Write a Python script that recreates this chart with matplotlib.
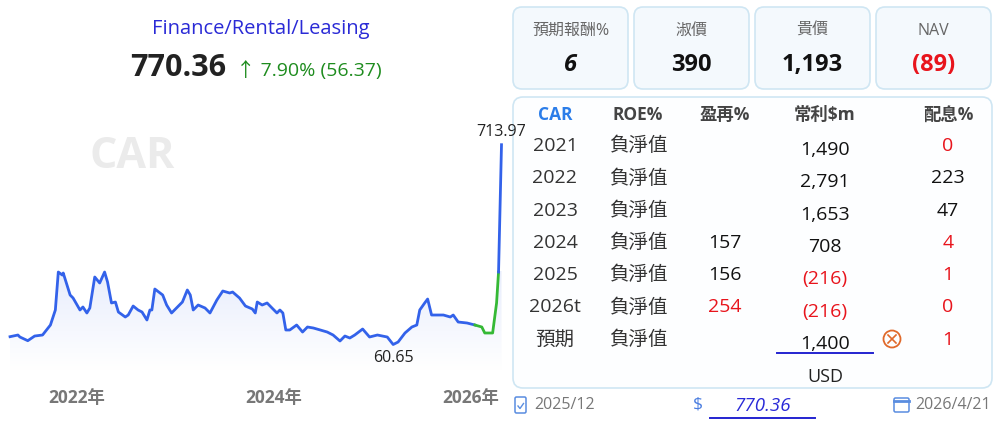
import matplotlib
matplotlib.use('Agg')
import matplotlib.pyplot as plt
import numpy as np
from matplotlib.patches import FancyBboxPatch, Circle, Polygon

plt.rcParams['font.family'] = ['Open Sans', 'Noto Sans CJK TC', 'DejaVu Sans']

# price history (decimal year, price)
t = [2021.32, 2021.40, 2021.42, 2021.50, 2021.57, 2021.65, 2021.73, 2021.78, 2021.81, 2021.85,
     2021.86, 2021.93, 2021.96, 2022.03, 2022.06, 2022.10, 2022.13, 2022.18, 2022.23, 2022.28,
     2022.31, 2022.35, 2022.39, 2022.42, 2022.49, 2022.52, 2022.57, 2022.62, 2022.66, 2022.71,
     2022.74, 2022.76, 2022.79, 2022.87, 2022.91, 2022.96, 2023.02, 2023.07, 2023.12, 2023.15,
     2023.18, 2023.23, 2023.30, 2023.35, 2023.42, 2023.48, 2023.55, 2023.58, 2023.65, 2023.71,
     2023.78, 2023.81, 2023.83, 2023.88, 2023.93, 2023.98, 2024.03, 2024.06, 2024.09, 2024.12,
     2024.16, 2024.23, 2024.29, 2024.34, 2024.40, 2024.47, 2024.54, 2024.60, 2024.67, 2024.72,
     2024.77, 2024.82, 2024.90, 2024.97, 2025.05, 2025.15, 2025.21, 2025.26, 2025.33, 2025.40,
     2025.45, 2025.48, 2025.53, 2025.56, 2025.60, 2025.72, 2025.79, 2025.82, 2025.87, 2025.96,
     2026.04, 2026.11, 2026.14, 2026.22, 2026.26, 2026.28, 2026.31]
price = [86.2, 91.7, 85.2, 73.1, 88.4, 91.7, 124.4, 173.5, 297.7, 287.9,
         294.5, 222.5, 212.7, 173.5, 183.3, 163.7, 180.0, 281.4, 261.8, 297.7,
         265.0, 196.4, 199.6, 166.9, 150.6, 157.1, 186.5, 173.5, 166.9, 140.8,
         173.5, 173.5, 242.1, 222.5, 189.8, 163.7, 183.3, 199.6, 238.9, 222.5,
         173.5, 189.8, 180.0, 163.7, 206.2, 235.6, 229.1, 232.3, 212.7, 186.5,
         176.7, 163.7, 199.6, 189.8, 196.4, 180.0, 163.7, 173.5, 163.7, 108.1,
         108.1, 124.4, 101.5, 117.9, 114.6, 108.1, 101.5, 91.7, 72.1, 88.4,
         81.9, 91.7, 111.3, 85.2, 91.7, 85.2, 60.65, 68.8, 98.3, 117.9,
         124.4, 173.5, 196.4, 209.4, 157.1, 157.1, 150.6, 157.1, 134.2, 131.0,
         124.4, 117.9, 98.3, 98.3, 196.4, 297.7, 713.97]
green_from, green_to = 90, 95

title = 'Finance/Rental/Leasing'
last_price = '770.36'
change = '↑ 7.90% (56.37)'
ticker = 'CAR'
year_ticks = [2022, 2024, 2026]

card_labels = ['預期報酬%', '淑價', '貴價', 'NAV']
card_values = ['6', '390', '1,193', '(89)']
card_colors = ['#111111', '#111111', '#111111', '#e8141c']

header = ['CAR', 'ROE%', '盈再%', '常利$m', '配息%']
row_years = ['2021', '2022', '2023', '2024', '2025', '2026t', '預期']
roe = ['負淨值'] * 7
reinvest = ['', '', '', '157', '156', '254', '']
reinvest_red = [False, False, False, False, False, True, False]
profit = ['1,490', '2,791', '1,653', '708', '(216)', '(216)', '1,400']
payout = ['0', '223', '47', '4', '1', '0', '1']
payout_red = [True, False, False, True, True, True, True]
currency = 'USD'
report_date = '2025/12'
quote_date = '2026/4/21'

RED = '#e8141c'
DARK = '#333333'
YLO, YHI = -22.7, 876.5

fig = plt.figure(figsize=(10.02, 4.26), dpi=100)

# ---- overlay in pixel coordinates ----
ov = fig.add_axes([0, 0, 1, 1])
ov.set_xlim(0, 1002)
ov.set_ylim(426, 0)
ov.axis('off')

# ---- price chart (above the overlay so the top label can cross the box) ----
ax = fig.add_axes([0, 56 / 426, 508 / 1002, 275 / 426])
ax.set_zorder(2)
ax.patch.set_visible(False)
for s in ax.spines.values():
    s.set_visible(False)

verts = list(zip(t, price)) + [(t[-1], YLO), (t[0], YLO)]
clip = Polygon(verts, closed=True, facecolor='none', edgecolor='none')
ax.add_patch(clip)
grad = np.linspace(0, 1, 256).reshape(-1, 1)
cmap = matplotlib.colors.LinearSegmentedColormap.from_list(
    'g', [(1, 1, 1, 1), (0.91, 0.93, 0.99, 1)])
im = ax.imshow(grad, extent=[t[0], t[-1], YLO, 300], origin='lower',
               aspect='auto', cmap=cmap, zorder=1)
im.set_clip_path(clip)

blue = '#3362ea'
green = '#35b935'
ax.plot(t[:green_from + 1], price[:green_from + 1], color=blue, lw=2, zorder=3)
ax.plot(t[green_from:green_to + 1], price[green_from:green_to + 1], color=green, lw=2, zorder=3)
ax.plot(t[green_to:], price[green_to:], color=blue, lw=2, zorder=3)

imax = int(np.argmax(price))
imin = int(np.argmin(price))
ax.annotate(f'{price[imax]:.2f}', (t[imax], price[imax]), xytext=(0, 9),
            textcoords='offset points', ha='center', va='center', fontsize=11.5, color='#222222')
ax.annotate(f'{price[imin]:.2f}', (t[imin], price[imin]), xytext=(0, -10),
            textcoords='offset points', ha='center', va='center', fontsize=11.5, color='#222222')

ax.set_xlim(2021.218, 2026.376)
ax.set_ylim(YLO, YHI)
ax.set_yticks([])
ax.set_xticks(year_ticks)
ax.set_xticklabels([f'{y}年' for y in year_ticks], fontweight='bold', color='#777777', fontsize=12.5)
ax.tick_params(axis='x', length=0, pad=14)

ov.text(132, 156, ticker, fontsize=31, fontweight='bold', color='#ebebeb',
        ha='center', va='center')
ov.text(261, 29, title, ha='center', va='center', fontsize=14.5, color='#2a2ad6')
ov.text(130, 68, last_price, ha='left', va='center', fontsize=22, fontweight='bold', color='#222222')
ov.text(236, 71, change, ha='left', va='center', fontsize=14, color='#1e8c1e')

border = '#cfe6f3'
for i, (lab, val, col) in enumerate(zip(card_labels, card_values, card_colors)):
    x0 = 513 + i * 121
    ov.add_patch(FancyBboxPatch((x0, 7), 115, 82, boxstyle='round,pad=0,rounding_size=9',
                                facecolor='#f4f9fd', edgecolor=border, lw=1.2))
    ov.text(x0 + 57.5, 31, lab, ha='center', va='center', fontsize=11.5, color='#666666')
    ov.text(x0 + 57.5, 65, val, ha='center', va='center', fontsize=17, fontweight='bold',
            color=col, style='italic' if i == 0 else 'normal')

ov.add_patch(FancyBboxPatch((513, 97), 479, 291, boxstyle='round,pad=0,rounding_size=10',
                            facecolor='#fdfeff', edgecolor=border, lw=1.2))

cols = [555, 638, 725, 825, 948]
for j, h in enumerate(header):
    ov.text(cols[j], 115, h, ha='center', va='center', fontsize=12.5, fontweight='bold',
            color='#2b7de9' if j == 0 else '#444444')

for i in range(len(row_years)):
    y = 146 + 32.3 * i
    ov.text(cols[0], y, row_years[i], ha='center', va='center', fontsize=14, color=DARK)
    ov.text(cols[1], y, roe[i], ha='center', va='center', fontsize=14, color=DARK)
    ov.text(cols[2], y, reinvest[i], ha='center', va='center', fontsize=14,
            color=RED if reinvest_red[i] else '#111111')
    ov.text(cols[3], y + 4, profit[i], ha='center', va='center', fontsize=14,
            color=RED if profit[i].startswith('(') else '#111111')
    ov.text(cols[4], y, payout[i], ha='center', va='center', fontsize=14,
            color=RED if payout_red[i] else '#111111')

ov.plot([777, 873], [353, 353], color='#2424d0', lw=1.4)
ov.add_patch(Circle((892, 339), 8.5, facecolor='none', edgecolor='#e0692a', lw=1.3))
ov.plot([888, 896], [335, 343], color='#e0692a', lw=1.2)
ov.plot([888, 896], [343, 335], color='#e0692a', lw=1.2)
ov.text(cols[3], 377, currency, ha='center', va='center', fontsize=13, color='#222222')

# footer
icon = '#5a8de0'
ov.add_patch(FancyBboxPatch((515, 397), 11, 16, boxstyle='round,pad=0,rounding_size=1.5',
                            facecolor='none', edgecolor=icon, lw=1.1))
ov.plot([518, 520, 523.5], [406, 408.5, 403.5], color=icon, lw=1)
ov.text(534, 405, report_date, ha='left', va='center', fontsize=11.5, color='#777777')
ov.text(698, 404, '$', ha='center', va='center', fontsize=12.5, color='#4a7de0')
ov.text(763, 406, last_price, ha='center', va='center', fontsize=13.5, style='italic', color='#2a2ad8')
ov.plot([710, 815], [418, 418], color='#2424d0', lw=1.4)
ov.add_patch(FancyBboxPatch((894, 398), 15, 14, boxstyle='round,pad=0,rounding_size=1.5',
                            facecolor='none', edgecolor=icon, lw=1.1))
ov.plot([894, 909], [401, 401], color=icon, lw=2)
ov.text(991, 405, quote_date, ha='right', va='center', fontsize=11.5, color='#777777')

fig.savefig('out.png', dpi=100)
